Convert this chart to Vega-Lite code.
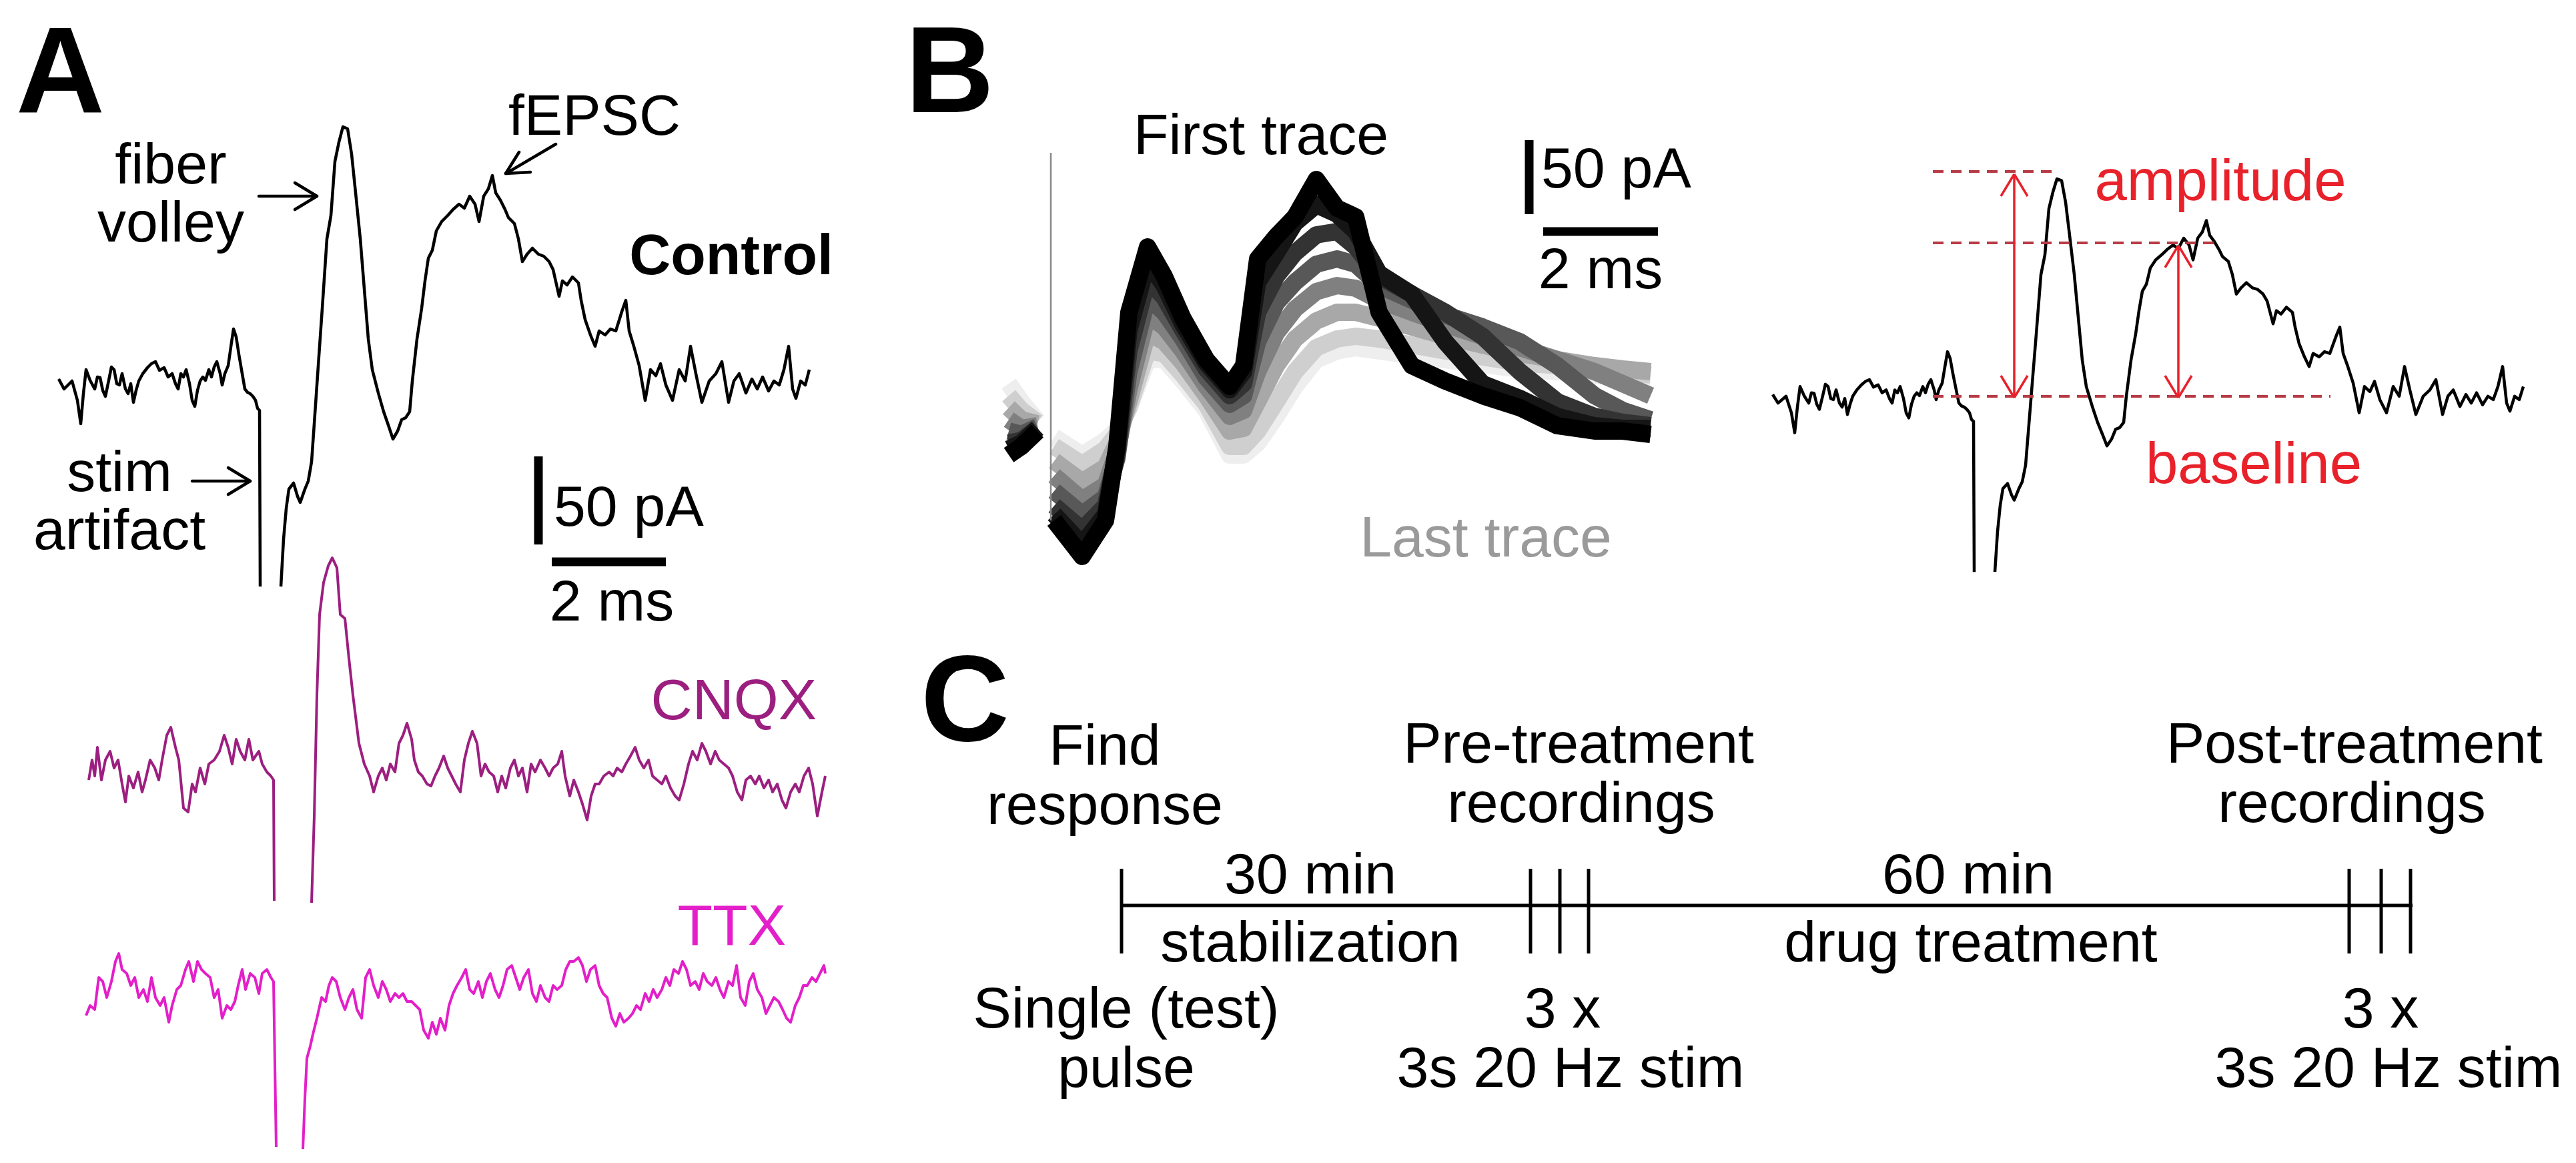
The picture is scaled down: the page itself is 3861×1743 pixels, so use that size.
{
"$schema":"https://vega.github.io/schema/vega-lite/v6.json",
"width":3861,"height":1743,"padding":0,"autosize":{"type":"none"},
"background":"white",
"config":{"view":{"stroke":null},"text":{"font":"Liberation Sans"}},
"resolve":{"scale":{"x":"independent","y":"independent","color":"independent"}},
"datasets":{
"ctrl":[
{"s":"a","x":88,"y":568},{"s":"a","x":96,"y":583},{"s":"a","x":104,"y":575},{"s":"a","x":108,"y":571},{"s":"a","x":116,"y":600},{"s":"a","x":121,"y":635},{"s":"a","x":125,"y":590},{"s":"a","x":129,"y":554},{"s":"a","x":135,"y":570},{"s":"a","x":142,"y":583},{"s":"a","x":146,"y":565},{"s":"a","x":150,"y":566},{"s":"a","x":154,"y":585},{"s":"a","x":158,"y":594},{"s":"a","x":163,"y":570},{"s":"a","x":167,"y":550},{"s":"a","x":171,"y":554},{"s":"a","x":175,"y":575},{"s":"a","x":179,"y":577},{"s":"a","x":183,"y":560},{"s":"a","x":188,"y":583},{"s":"a","x":192,"y":590},{"s":"a","x":196,"y":575},{"s":"a","x":200,"y":603},{"s":"a","x":204,"y":585},{"s":"a","x":208,"y":571},{"s":"a","x":214,"y":560},{"s":"a","x":221,"y":551},{"s":"a","x":227,"y":545},{"s":"a","x":233,"y":542},{"s":"a","x":239,"y":555},{"s":"a","x":246,"y":551},{"s":"a","x":252,"y":565},{"s":"a","x":258,"y":560},{"s":"a","x":263,"y":575},{"s":"a","x":267,"y":583},{"s":"a","x":271,"y":560},{"s":"a","x":275,"y":565},{"s":"a","x":279,"y":554},{"s":"a","x":284,"y":575},{"s":"a","x":288,"y":600},{"s":"a","x":292,"y":609},{"s":"a","x":296,"y":585},{"s":"a","x":300,"y":571},{"s":"a","x":304,"y":565},{"s":"a","x":308,"y":570},{"s":"a","x":313,"y":554},{"s":"a","x":317,"y":565},{"s":"a","x":321,"y":550},{"s":"a","x":325,"y":542},{"s":"a","x":330,"y":560},{"s":"a","x":333,"y":577},{"s":"a","x":337,"y":560},{"s":"a","x":342,"y":548},{"s":"a","x":346,"y":520},{"s":"a","x":350,"y":493},{"s":"a","x":354,"y":505},{"s":"a","x":358,"y":531},{"s":"a","x":363,"y":560},{"s":"a","x":367,"y":583},{"s":"a","x":371,"y":588},{"s":"a","x":375,"y":590},{"s":"a","x":379,"y":594},{"s":"a","x":383,"y":600},{"s":"a","x":386,"y":612},{"s":"a","x":389,"y":615},{"s":"a","x":390,"y":879},
{"s":"b","x":421,"y":879},{"s":"b","x":425,"y":808},{"s":"b","x":429,"y":762},{"s":"b","x":433,"y":733},{"s":"b","x":440,"y":724},{"s":"b","x":446,"y":744},{"s":"b","x":450,"y":753},{"s":"b","x":457,"y":733},{"s":"b","x":462,"y":721},{"s":"b","x":467,"y":692},{"s":"b","x":471,"y":635},{"s":"b","x":477,"y":548},{"s":"b","x":483,"y":462},{"s":"b","x":490,"y":358},{"s":"b","x":496,"y":323},{"s":"b","x":502,"y":242},{"s":"b","x":508,"y":213},{"s":"b","x":514,"y":190},{"s":"b","x":521,"y":193},{"s":"b","x":527,"y":231},{"s":"b","x":533,"y":289},{"s":"b","x":540,"y":358},{"s":"b","x":546,"y":433},{"s":"b","x":552,"y":508},{"s":"b","x":558,"y":554},{"s":"b","x":567,"y":589},{"s":"b","x":575,"y":617},{"s":"b","x":583,"y":640},{"s":"b","x":589,"y":658},{"s":"b","x":596,"y":646},{"s":"b","x":602,"y":629},{"s":"b","x":608,"y":626},{"s":"b","x":614,"y":617},{"s":"b","x":618,"y":571},{"s":"b","x":625,"y":508},{"s":"b","x":632,"y":462},{"s":"b","x":637,"y":421},{"s":"b","x":642,"y":387},{"s":"b","x":648,"y":375},{"s":"b","x":654,"y":346},{"s":"b","x":662,"y":332},{"s":"b","x":671,"y":323},{"s":"b","x":679,"y":314},{"s":"b","x":688,"y":306},{"s":"b","x":696,"y":312},{"s":"b","x":704,"y":294},{"s":"b","x":712,"y":306},{"s":"b","x":718,"y":332},{"s":"b","x":725,"y":294},{"s":"b","x":732,"y":283},{"s":"b","x":738,"y":263},{"s":"b","x":743,"y":289},{"s":"b","x":750,"y":300},{"s":"b","x":757,"y":314},{"s":"b","x":762,"y":326},{"s":"b","x":771,"y":335},{"s":"b","x":777,"y":358},{"s":"b","x":783,"y":392},{"s":"b","x":790,"y":381},{"s":"b","x":798,"y":372},{"s":"b","x":807,"y":381},{"s":"b","x":815,"y":384},{"s":"b","x":823,"y":392},{"s":"b","x":829,"y":404},{"s":"b","x":838,"y":444},{"s":"b","x":843,"y":421},{"s":"b","x":850,"y":427},{"s":"b","x":858,"y":415},{"s":"b","x":867,"y":424},{"s":"b","x":871,"y":450},{"s":"b","x":877,"y":479},{"s":"b","x":885,"y":502},{"s":"b","x":892,"y":519},{"s":"b","x":898,"y":496},{"s":"b","x":907,"y":502},{"s":"b","x":915,"y":493},{"s":"b","x":923,"y":496},{"s":"b","x":932,"y":467},{"s":"b","x":938,"y":450},{"s":"b","x":943,"y":496},{"s":"b","x":950,"y":519},{"s":"b","x":958,"y":548},{"s":"b","x":967,"y":600},{"s":"b","x":975,"y":554},{"s":"b","x":983,"y":563},{"s":"b","x":990,"y":545},{"s":"b","x":998,"y":577},{"s":"b","x":1008,"y":600},{"s":"b","x":1018,"y":554},{"s":"b","x":1027,"y":571},{"s":"b","x":1035,"y":519},{"s":"b","x":1043,"y":560},{"s":"b","x":1052,"y":603},{"s":"b","x":1063,"y":571},{"s":"b","x":1073,"y":560},{"s":"b","x":1082,"y":542},{"s":"b","x":1092,"y":603},{"s":"b","x":1100,"y":571},{"s":"b","x":1108,"y":560},{"s":"b","x":1118,"y":589},{"s":"b","x":1127,"y":568},{"s":"b","x":1135,"y":583},{"s":"b","x":1143,"y":565},{"s":"b","x":1152,"y":586},{"s":"b","x":1160,"y":571},{"s":"b","x":1168,"y":577},{"s":"b","x":1175,"y":554},{"s":"b","x":1182,"y":519},{"s":"b","x":1188,"y":583},{"s":"b","x":1193,"y":597},{"s":"b","x":1200,"y":571},{"s":"b","x":1207,"y":577},{"s":"b","x":1213,"y":554}
],
"cnqx":[
{"s":"a","x":133,"y":1169},{"s":"a","x":138,"y":1139},{"s":"a","x":142,"y":1163},{"s":"a","x":146,"y":1120},{"s":"a","x":152,"y":1169},{"s":"a","x":158,"y":1139},{"s":"a","x":165,"y":1126},{"s":"a","x":171,"y":1151},{"s":"a","x":177,"y":1139},{"s":"a","x":183,"y":1175},{"s":"a","x":188,"y":1202},{"s":"a","x":193,"y":1163},{"s":"a","x":200,"y":1181},{"s":"a","x":207,"y":1157},{"s":"a","x":213,"y":1187},{"s":"a","x":218,"y":1169},{"s":"a","x":225,"y":1139},{"s":"a","x":232,"y":1151},{"s":"a","x":238,"y":1169},{"s":"a","x":243,"y":1139},{"s":"a","x":250,"y":1102},{"s":"a","x":256,"y":1090},{"s":"a","x":263,"y":1120},{"s":"a","x":268,"y":1139},{"s":"a","x":275,"y":1211},{"s":"a","x":282,"y":1217},{"s":"a","x":288,"y":1175},{"s":"a","x":293,"y":1187},{"s":"a","x":300,"y":1151},{"s":"a","x":307,"y":1175},{"s":"a","x":313,"y":1145},{"s":"a","x":321,"y":1139},{"s":"a","x":329,"y":1126},{"s":"a","x":336,"y":1102},{"s":"a","x":342,"y":1120},{"s":"a","x":348,"y":1145},{"s":"a","x":354,"y":1108},{"s":"a","x":360,"y":1126},{"s":"a","x":367,"y":1139},{"s":"a","x":373,"y":1108},{"s":"a","x":379,"y":1139},{"s":"a","x":388,"y":1126},{"s":"a","x":393,"y":1145},{"s":"a","x":400,"y":1157},{"s":"a","x":406,"y":1163},{"s":"a","x":410,"y":1169},{"s":"a","x":411,"y":1350},
{"s":"b","x":467,"y":1353},{"s":"b","x":471,"y":1223},{"s":"b","x":475,"y":1042},{"s":"b","x":479,"y":921},{"s":"b","x":485,"y":873},{"s":"b","x":492,"y":848},{"s":"b","x":498,"y":836},{"s":"b","x":505,"y":851},{"s":"b","x":510,"y":921},{"s":"b","x":517,"y":927},{"s":"b","x":523,"y":987},{"s":"b","x":529,"y":1042},{"s":"b","x":538,"y":1114},{"s":"b","x":546,"y":1145},{"s":"b","x":554,"y":1163},{"s":"b","x":560,"y":1187},{"s":"b","x":567,"y":1163},{"s":"b","x":573,"y":1151},{"s":"b","x":579,"y":1169},{"s":"b","x":585,"y":1145},{"s":"b","x":592,"y":1157},{"s":"b","x":598,"y":1114},{"s":"b","x":604,"y":1102},{"s":"b","x":610,"y":1084},{"s":"b","x":617,"y":1108},{"s":"b","x":621,"y":1139},{"s":"b","x":627,"y":1157},{"s":"b","x":633,"y":1163},{"s":"b","x":640,"y":1175},{"s":"b","x":646,"y":1178},{"s":"b","x":652,"y":1163},{"s":"b","x":658,"y":1151},{"s":"b","x":665,"y":1133},{"s":"b","x":671,"y":1151},{"s":"b","x":677,"y":1163},{"s":"b","x":683,"y":1175},{"s":"b","x":690,"y":1187},{"s":"b","x":696,"y":1139},{"s":"b","x":702,"y":1114},{"s":"b","x":708,"y":1096},{"s":"b","x":715,"y":1114},{"s":"b","x":721,"y":1163},{"s":"b","x":727,"y":1145},{"s":"b","x":733,"y":1157},{"s":"b","x":740,"y":1163},{"s":"b","x":746,"y":1187},{"s":"b","x":752,"y":1163},{"s":"b","x":758,"y":1181},{"s":"b","x":765,"y":1151},{"s":"b","x":771,"y":1139},{"s":"b","x":777,"y":1163},{"s":"b","x":783,"y":1151},{"s":"b","x":790,"y":1187},{"s":"b","x":796,"y":1145},{"s":"b","x":802,"y":1157},{"s":"b","x":810,"y":1139},{"s":"b","x":817,"y":1151},{"s":"b","x":823,"y":1163},{"s":"b","x":829,"y":1151},{"s":"b","x":836,"y":1145},{"s":"b","x":842,"y":1126},{"s":"b","x":847,"y":1163},{"s":"b","x":854,"y":1193},{"s":"b","x":860,"y":1169},{"s":"b","x":867,"y":1187},{"s":"b","x":873,"y":1205},{"s":"b","x":880,"y":1229},{"s":"b","x":886,"y":1193},{"s":"b","x":892,"y":1175},{"s":"b","x":898,"y":1175},{"s":"b","x":905,"y":1163},{"s":"b","x":913,"y":1157},{"s":"b","x":919,"y":1163},{"s":"b","x":925,"y":1151},{"s":"b","x":932,"y":1157},{"s":"b","x":938,"y":1145},{"s":"b","x":945,"y":1133},{"s":"b","x":952,"y":1120},{"s":"b","x":958,"y":1139},{"s":"b","x":965,"y":1151},{"s":"b","x":972,"y":1139},{"s":"b","x":978,"y":1163},{"s":"b","x":985,"y":1169},{"s":"b","x":992,"y":1175},{"s":"b","x":998,"y":1163},{"s":"b","x":1005,"y":1181},{"s":"b","x":1012,"y":1193},{"s":"b","x":1018,"y":1199},{"s":"b","x":1025,"y":1175},{"s":"b","x":1032,"y":1145},{"s":"b","x":1038,"y":1126},{"s":"b","x":1045,"y":1139},{"s":"b","x":1052,"y":1114},{"s":"b","x":1058,"y":1126},{"s":"b","x":1065,"y":1145},{"s":"b","x":1072,"y":1126},{"s":"b","x":1078,"y":1139},{"s":"b","x":1085,"y":1145},{"s":"b","x":1092,"y":1151},{"s":"b","x":1098,"y":1163},{"s":"b","x":1105,"y":1187},{"s":"b","x":1112,"y":1199},{"s":"b","x":1118,"y":1169},{"s":"b","x":1125,"y":1163},{"s":"b","x":1132,"y":1175},{"s":"b","x":1138,"y":1163},{"s":"b","x":1145,"y":1181},{"s":"b","x":1152,"y":1169},{"s":"b","x":1158,"y":1187},{"s":"b","x":1165,"y":1175},{"s":"b","x":1172,"y":1199},{"s":"b","x":1178,"y":1211},{"s":"b","x":1185,"y":1187},{"s":"b","x":1192,"y":1175},{"s":"b","x":1198,"y":1187},{"s":"b","x":1205,"y":1163},{"s":"b","x":1212,"y":1151},{"s":"b","x":1218,"y":1175},{"s":"b","x":1225,"y":1223},{"s":"b","x":1232,"y":1187},{"s":"b","x":1237,"y":1163}
],
"ttx":[
{"s":"a","x":129,"y":1522},{"s":"a","x":135,"y":1507},{"s":"a","x":142,"y":1513},{"s":"a","x":148,"y":1465},{"s":"a","x":154,"y":1471},{"s":"a","x":160,"y":1495},{"s":"a","x":167,"y":1471},{"s":"a","x":173,"y":1441},{"s":"a","x":178,"y":1429},{"s":"a","x":183,"y":1453},{"s":"a","x":190,"y":1459},{"s":"a","x":196,"y":1477},{"s":"a","x":202,"y":1465},{"s":"a","x":208,"y":1495},{"s":"a","x":215,"y":1483},{"s":"a","x":221,"y":1501},{"s":"a","x":227,"y":1465},{"s":"a","x":233,"y":1495},{"s":"a","x":240,"y":1507},{"s":"a","x":246,"y":1495},{"s":"a","x":253,"y":1532},{"s":"a","x":258,"y":1507},{"s":"a","x":265,"y":1483},{"s":"a","x":271,"y":1477},{"s":"a","x":278,"y":1453},{"s":"a","x":283,"y":1441},{"s":"a","x":290,"y":1471},{"s":"a","x":296,"y":1441},{"s":"a","x":302,"y":1453},{"s":"a","x":308,"y":1459},{"s":"a","x":315,"y":1465},{"s":"a","x":321,"y":1495},{"s":"a","x":327,"y":1483},{"s":"a","x":333,"y":1526},{"s":"a","x":340,"y":1507},{"s":"a","x":346,"y":1513},{"s":"a","x":352,"y":1501},{"s":"a","x":357,"y":1477},{"s":"a","x":363,"y":1453},{"s":"a","x":368,"y":1483},{"s":"a","x":375,"y":1459},{"s":"a","x":382,"y":1465},{"s":"a","x":388,"y":1489},{"s":"a","x":393,"y":1459},{"s":"a","x":400,"y":1453},{"s":"a","x":406,"y":1465},{"s":"a","x":410,"y":1471},{"s":"a","x":414,"y":1719},
{"s":"b","x":454,"y":1722},{"s":"b","x":457,"y":1646},{"s":"b","x":460,"y":1586},{"s":"b","x":465,"y":1568},{"s":"b","x":469,"y":1550},{"s":"b","x":475,"y":1526},{"s":"b","x":482,"y":1495},{"s":"b","x":488,"y":1501},{"s":"b","x":493,"y":1477},{"s":"b","x":498,"y":1465},{"s":"b","x":504,"y":1471},{"s":"b","x":510,"y":1495},{"s":"b","x":517,"y":1513},{"s":"b","x":523,"y":1495},{"s":"b","x":529,"y":1483},{"s":"b","x":535,"y":1513},{"s":"b","x":542,"y":1526},{"s":"b","x":548,"y":1465},{"s":"b","x":554,"y":1453},{"s":"b","x":560,"y":1477},{"s":"b","x":567,"y":1495},{"s":"b","x":573,"y":1471},{"s":"b","x":579,"y":1483},{"s":"b","x":585,"y":1501},{"s":"b","x":592,"y":1489},{"s":"b","x":598,"y":1495},{"s":"b","x":604,"y":1489},{"s":"b","x":610,"y":1501},{"s":"b","x":617,"y":1501},{"s":"b","x":623,"y":1507},{"s":"b","x":629,"y":1513},{"s":"b","x":635,"y":1544},{"s":"b","x":642,"y":1556},{"s":"b","x":648,"y":1532},{"s":"b","x":654,"y":1550},{"s":"b","x":660,"y":1526},{"s":"b","x":667,"y":1544},{"s":"b","x":673,"y":1507},{"s":"b","x":679,"y":1489},{"s":"b","x":685,"y":1477},{"s":"b","x":692,"y":1465},{"s":"b","x":698,"y":1453},{"s":"b","x":704,"y":1483},{"s":"b","x":710,"y":1489},{"s":"b","x":717,"y":1471},{"s":"b","x":723,"y":1495},{"s":"b","x":729,"y":1471},{"s":"b","x":735,"y":1459},{"s":"b","x":742,"y":1483},{"s":"b","x":748,"y":1495},{"s":"b","x":754,"y":1477},{"s":"b","x":760,"y":1453},{"s":"b","x":767,"y":1447},{"s":"b","x":773,"y":1465},{"s":"b","x":779,"y":1483},{"s":"b","x":785,"y":1465},{"s":"b","x":792,"y":1453},{"s":"b","x":798,"y":1489},{"s":"b","x":804,"y":1501},{"s":"b","x":810,"y":1477},{"s":"b","x":817,"y":1495},{"s":"b","x":823,"y":1501},{"s":"b","x":829,"y":1477},{"s":"b","x":835,"y":1483},{"s":"b","x":842,"y":1477},{"s":"b","x":848,"y":1453},{"s":"b","x":854,"y":1441},{"s":"b","x":860,"y":1441},{"s":"b","x":867,"y":1435},{"s":"b","x":873,"y":1447},{"s":"b","x":879,"y":1471},{"s":"b","x":885,"y":1453},{"s":"b","x":892,"y":1447},{"s":"b","x":898,"y":1477},{"s":"b","x":904,"y":1489},{"s":"b","x":910,"y":1495},{"s":"b","x":917,"y":1526},{"s":"b","x":923,"y":1538},{"s":"b","x":929,"y":1519},{"s":"b","x":935,"y":1532},{"s":"b","x":942,"y":1526},{"s":"b","x":948,"y":1519},{"s":"b","x":954,"y":1507},{"s":"b","x":960,"y":1513},{"s":"b","x":967,"y":1489},{"s":"b","x":973,"y":1501},{"s":"b","x":979,"y":1483},{"s":"b","x":985,"y":1495},{"s":"b","x":992,"y":1483},{"s":"b","x":998,"y":1465},{"s":"b","x":1004,"y":1477},{"s":"b","x":1010,"y":1453},{"s":"b","x":1017,"y":1459},{"s":"b","x":1023,"y":1441},{"s":"b","x":1029,"y":1453},{"s":"b","x":1035,"y":1477},{"s":"b","x":1042,"y":1471},{"s":"b","x":1048,"y":1483},{"s":"b","x":1054,"y":1459},{"s":"b","x":1060,"y":1471},{"s":"b","x":1067,"y":1477},{"s":"b","x":1073,"y":1465},{"s":"b","x":1079,"y":1483},{"s":"b","x":1085,"y":1495},{"s":"b","x":1092,"y":1471},{"s":"b","x":1098,"y":1477},{"s":"b","x":1104,"y":1447},{"s":"b","x":1110,"y":1495},{"s":"b","x":1117,"y":1507},{"s":"b","x":1123,"y":1471},{"s":"b","x":1129,"y":1459},{"s":"b","x":1135,"y":1483},{"s":"b","x":1142,"y":1495},{"s":"b","x":1148,"y":1519},{"s":"b","x":1154,"y":1507},{"s":"b","x":1160,"y":1495},{"s":"b","x":1167,"y":1501},{"s":"b","x":1173,"y":1513},{"s":"b","x":1179,"y":1526},{"s":"b","x":1185,"y":1532},{"s":"b","x":1192,"y":1507},{"s":"b","x":1198,"y":1495},{"s":"b","x":1204,"y":1477},{"s":"b","x":1210,"y":1477},{"s":"b","x":1217,"y":1465},{"s":"b","x":1223,"y":1471},{"s":"b","x":1229,"y":1459},{"s":"b","x":1235,"y":1447},{"s":"b","x":1237,"y":1459}
],
"bl":[
{"t":8,"s":"L","x":1512,"y":575},{"t":8,"s":"L","x":1531,"y":602},{"t":8,"s":"L","x":1555,"y":631},
{"t":8,"s":"R","x":1580,"y":655},{"t":8,"s":"R","x":1622,"y":682},{"t":8,"s":"R","x":1657,"y":660},{"t":8,"s":"R","x":1674,"y":644},{"t":8,"s":"R","x":1692,"y":613},{"t":8,"s":"R","x":1720,"y":539},{"t":8,"s":"R","x":1745,"y":539},{"t":8,"s":"R","x":1773,"y":571},{"t":8,"s":"R","x":1808,"y":615},{"t":8,"s":"R","x":1843,"y":682},{"t":8,"s":"R","x":1864,"y":682},{"t":8,"s":"R","x":1885,"y":664},{"t":8,"s":"R","x":1913,"y":624},{"t":8,"s":"R","x":1941,"y":579},{"t":8,"s":"R","x":1973,"y":539},{"t":8,"s":"R","x":2004,"y":526},{"t":8,"s":"R","x":2032,"y":521},{"t":8,"s":"R","x":2067,"y":526},{"t":8,"s":"R","x":2116,"y":533},{"t":8,"s":"R","x":2166,"y":539},{"t":8,"s":"R","x":2222,"y":546},{"t":8,"s":"R","x":2278,"y":553},{"t":8,"s":"R","x":2334,"y":557},{"t":8,"s":"R","x":2390,"y":562},{"t":8,"s":"R","x":2432,"y":564},{"t":8,"s":"R","x":2474,"y":566},
{"t":7,"s":"L","x":1512,"y":593},{"t":7,"s":"L","x":1531,"y":615},{"t":7,"s":"L","x":1555,"y":633},
{"t":7,"s":"R","x":1580,"y":669},{"t":7,"s":"R","x":1622,"y":696},{"t":7,"s":"R","x":1657,"y":673},{"t":7,"s":"R","x":1674,"y":651},{"t":7,"s":"R","x":1692,"y":611},{"t":7,"s":"R","x":1720,"y":526},{"t":7,"s":"R","x":1745,"y":530},{"t":7,"s":"R","x":1773,"y":562},{"t":7,"s":"R","x":1808,"y":606},{"t":7,"s":"R","x":1843,"y":669},{"t":7,"s":"R","x":1864,"y":669},{"t":7,"s":"R","x":1885,"y":646},{"t":7,"s":"R","x":1913,"y":602},{"t":7,"s":"R","x":1941,"y":557},{"t":7,"s":"R","x":1973,"y":521},{"t":7,"s":"R","x":2004,"y":508},{"t":7,"s":"R","x":2032,"y":504},{"t":7,"s":"R","x":2067,"y":508},{"t":7,"s":"R","x":2116,"y":517},{"t":7,"s":"R","x":2166,"y":526},{"t":7,"s":"R","x":2222,"y":535},{"t":7,"s":"R","x":2278,"y":544},{"t":7,"s":"R","x":2334,"y":548},{"t":7,"s":"R","x":2390,"y":553},{"t":7,"s":"R","x":2432,"y":557},{"t":7,"s":"R","x":2474,"y":562},
{"t":6,"s":"L","x":1512,"y":611},{"t":6,"s":"L","x":1531,"y":629},{"t":6,"s":"L","x":1555,"y":635},
{"t":6,"s":"R","x":1580,"y":691},{"t":6,"s":"R","x":1622,"y":722},{"t":6,"s":"R","x":1657,"y":700},{"t":6,"s":"R","x":1674,"y":664},{"t":6,"s":"R","x":1692,"y":602},{"t":6,"s":"R","x":1720,"y":499},{"t":6,"s":"R","x":1745,"y":512},{"t":6,"s":"R","x":1773,"y":544},{"t":6,"s":"R","x":1808,"y":593},{"t":6,"s":"R","x":1843,"y":646},{"t":6,"s":"R","x":1864,"y":642},{"t":6,"s":"R","x":1885,"y":602},{"t":6,"s":"R","x":1913,"y":548},{"t":6,"s":"R","x":1941,"y":508},{"t":6,"s":"R","x":1973,"y":481},{"t":6,"s":"R","x":2004,"y":468},{"t":6,"s":"R","x":2032,"y":468},{"t":6,"s":"R","x":2067,"y":477},{"t":6,"s":"R","x":2116,"y":490},{"t":6,"s":"R","x":2166,"y":504},{"t":6,"s":"R","x":2222,"y":517},{"t":6,"s":"R","x":2278,"y":530},{"t":6,"s":"R","x":2334,"y":539},{"t":6,"s":"R","x":2390,"y":548},{"t":6,"s":"R","x":2432,"y":553},{"t":6,"s":"R","x":2474,"y":557},
{"t":5,"s":"L","x":1512,"y":629},{"t":5,"s":"L","x":1531,"y":642},{"t":5,"s":"L","x":1555,"y":638},
{"t":5,"s":"R","x":1580,"y":713},{"t":5,"s":"R","x":1622,"y":749},{"t":5,"s":"R","x":1657,"y":727},{"t":5,"s":"R","x":1674,"y":678},{"t":5,"s":"R","x":1692,"y":584},{"t":5,"s":"R","x":1720,"y":472},{"t":5,"s":"R","x":1745,"y":490},{"t":5,"s":"R","x":1773,"y":526},{"t":5,"s":"R","x":1808,"y":579},{"t":5,"s":"R","x":1843,"y":624},{"t":5,"s":"R","x":1864,"y":615},{"t":5,"s":"R","x":1885,"y":557},{"t":5,"s":"R","x":1913,"y":499},{"t":5,"s":"R","x":1941,"y":463},{"t":5,"s":"R","x":1973,"y":437},{"t":5,"s":"R","x":2004,"y":428},{"t":5,"s":"R","x":2032,"y":432},{"t":5,"s":"R","x":2067,"y":450},{"t":5,"s":"R","x":2116,"y":468},{"t":5,"s":"R","x":2166,"y":486},{"t":5,"s":"R","x":2222,"y":504},{"t":5,"s":"R","x":2278,"y":521},{"t":5,"s":"R","x":2334,"y":539},{"t":5,"s":"R","x":2390,"y":557},{"t":5,"s":"R","x":2432,"y":575},{"t":5,"s":"R","x":2474,"y":593},
{"t":4,"s":"L","x":1512,"y":646},{"t":4,"s":"L","x":1531,"y":651},{"t":4,"s":"L","x":1555,"y":640},
{"t":4,"s":"R","x":1580,"y":736},{"t":4,"s":"R","x":1622,"y":771},{"t":4,"s":"R","x":1657,"y":745},{"t":4,"s":"R","x":1674,"y":687},{"t":4,"s":"R","x":1692,"y":557},{"t":4,"s":"R","x":1720,"y":446},{"t":4,"s":"R","x":1745,"y":468},{"t":4,"s":"R","x":1773,"y":508},{"t":4,"s":"R","x":1808,"y":566},{"t":4,"s":"R","x":1843,"y":606},{"t":4,"s":"R","x":1864,"y":593},{"t":4,"s":"R","x":1885,"y":512},{"t":4,"s":"R","x":1913,"y":454},{"t":4,"s":"R","x":1941,"y":423},{"t":4,"s":"R","x":1973,"y":396},{"t":4,"s":"R","x":2004,"y":388},{"t":4,"s":"R","x":2032,"y":396},{"t":4,"s":"R","x":2067,"y":428},{"t":4,"s":"R","x":2116,"y":450},{"t":4,"s":"R","x":2166,"y":472},{"t":4,"s":"R","x":2222,"y":490},{"t":4,"s":"R","x":2278,"y":512},{"t":4,"s":"R","x":2334,"y":548},{"t":4,"s":"R","x":2390,"y":593},{"t":4,"s":"R","x":2432,"y":615},{"t":4,"s":"R","x":2474,"y":629},
{"t":3,"s":"L","x":1512,"y":664},{"t":3,"s":"L","x":1531,"y":660},{"t":3,"s":"L","x":1555,"y":642},
{"t":3,"s":"R","x":1580,"y":758},{"t":3,"s":"R","x":1622,"y":794},{"t":3,"s":"R","x":1657,"y":758},{"t":3,"s":"R","x":1674,"y":682},{"t":3,"s":"R","x":1692,"y":526},{"t":3,"s":"R","x":1720,"y":419},{"t":3,"s":"R","x":1745,"y":446},{"t":3,"s":"R","x":1773,"y":495},{"t":3,"s":"R","x":1808,"y":553},{"t":3,"s":"R","x":1843,"y":593},{"t":3,"s":"R","x":1864,"y":575},{"t":3,"s":"R","x":1885,"y":468},{"t":3,"s":"R","x":1913,"y":414},{"t":3,"s":"R","x":1941,"y":379},{"t":3,"s":"R","x":1973,"y":352},{"t":3,"s":"R","x":2004,"y":347},{"t":3,"s":"R","x":2032,"y":370},{"t":3,"s":"R","x":2067,"y":414},{"t":3,"s":"R","x":2116,"y":441},{"t":3,"s":"R","x":2166,"y":468},{"t":3,"s":"R","x":2222,"y":504},{"t":3,"s":"R","x":2278,"y":557},{"t":3,"s":"R","x":2334,"y":602},{"t":3,"s":"R","x":2390,"y":624},{"t":3,"s":"R","x":2432,"y":633},{"t":3,"s":"R","x":2474,"y":638},
{"t":2,"s":"L","x":1512,"y":673},{"t":2,"s":"L","x":1531,"y":664},{"t":2,"s":"L","x":1555,"y":642},
{"t":2,"s":"R","x":1580,"y":771},{"t":2,"s":"R","x":1622,"y":816},{"t":2,"s":"R","x":1657,"y":771},{"t":2,"s":"R","x":1674,"y":673},{"t":2,"s":"R","x":1692,"y":495},{"t":2,"s":"R","x":1720,"y":392},{"t":2,"s":"R","x":1745,"y":428},{"t":2,"s":"R","x":1773,"y":486},{"t":2,"s":"R","x":1808,"y":544},{"t":2,"s":"R","x":1843,"y":584},{"t":2,"s":"R","x":1864,"y":557},{"t":2,"s":"R","x":1885,"y":423},{"t":2,"s":"R","x":1913,"y":379},{"t":2,"s":"R","x":1941,"y":334},{"t":2,"s":"R","x":1973,"y":307},{"t":2,"s":"R","x":2004,"y":321},{"t":2,"s":"R","x":2032,"y":347},{"t":2,"s":"R","x":2067,"y":410},{"t":2,"s":"R","x":2116,"y":441},{"t":2,"s":"R","x":2166,"y":512},{"t":2,"s":"R","x":2222,"y":575},{"t":2,"s":"R","x":2278,"y":597},{"t":2,"s":"R","x":2334,"y":624},{"t":2,"s":"R","x":2390,"y":638},{"t":2,"s":"R","x":2432,"y":642},{"t":2,"s":"R","x":2474,"y":642},
{"t":1,"s":"L","x":1512,"y":682},{"t":1,"s":"L","x":1531,"y":669},{"t":1,"s":"L","x":1555,"y":646},
{"t":1,"s":"R","x":1580,"y":780},{"t":1,"s":"R","x":1622,"y":834},{"t":1,"s":"R","x":1657,"y":780},{"t":1,"s":"R","x":1674,"y":669},{"t":1,"s":"R","x":1692,"y":468},{"t":1,"s":"R","x":1720,"y":370},{"t":1,"s":"R","x":1745,"y":414},{"t":1,"s":"R","x":1773,"y":477},{"t":1,"s":"R","x":1808,"y":539},{"t":1,"s":"R","x":1843,"y":579},{"t":1,"s":"R","x":1864,"y":548},{"t":1,"s":"R","x":1885,"y":388},{"t":1,"s":"R","x":1913,"y":354},{"t":1,"s":"R","x":1941,"y":325},{"t":1,"s":"R","x":1973,"y":269},{"t":1,"s":"R","x":2004,"y":312},{"t":1,"s":"R","x":2032,"y":325},{"t":1,"s":"R","x":2067,"y":468},{"t":1,"s":"R","x":2116,"y":548},{"t":1,"s":"R","x":2166,"y":571},{"t":1,"s":"R","x":2222,"y":593},{"t":1,"s":"R","x":2278,"y":611},{"t":1,"s":"R","x":2334,"y":638},{"t":1,"s":"R","x":2390,"y":646},{"t":1,"s":"R","x":2432,"y":646},{"t":1,"s":"R","x":2474,"y":651}
]
},
"layer":[
{"data":{"name":"bl"},"mark":{"type":"line","strokeWidth":26,"strokeJoin":"round","strokeCap":"butt"},
 "encoding":{"x":{"field":"x","type":"quantitative","axis":null,"scale":{"domain":[0,3861],"nice":false,"zero":false}},
  "y":{"field":"y","type":"quantitative","axis":null,"scale":{"domain":[0,1743],"reverse":true,"nice":false,"zero":false}},
  "color":{"field":"t","type":"ordinal","legend":null,"scale":{"domain":[8,7,6,5,4,3,2,1],"range":["#eeeeee","#cfcfcf","#a8a8a8","#808080","#585858","#333333","#151515","#000000"]}},
  "detail":{"field":"s"}}},
{"data":{"values":[{"x":1575,"y":229,"x2":1575,"y2":780}]},"mark":{"type":"rule","strokeWidth":2.5,"color":"#888888"},
 "encoding":{"x":{"field":"x","type":"quantitative","axis":null,"scale":{"domain":[0,3861],"nice":false,"zero":false}},
  "y":{"field":"y","type":"quantitative","axis":null,"scale":{"domain":[0,1743],"reverse":true,"nice":false,"zero":false}},
  "x2":{"field":"x2"},"y2":{"field":"y2"}}},
{"data":{"name":"ctrl"},"mark":{"type":"line","strokeWidth":4.5,"color":"#000000","strokeJoin":"round"},
 "encoding":{"x":{"field":"x","type":"quantitative","axis":null,"scale":{"domain":[0,3861],"nice":false,"zero":false}},
  "y":{"field":"y","type":"quantitative","axis":null,"scale":{"domain":[0,1743],"reverse":true,"nice":false,"zero":false}},
  "detail":{"field":"s"}}},
{"data":{"name":"ctrl"},"mark":{"type":"line","strokeWidth":4.5,"color":"#000000","strokeJoin":"round"},
 "encoding":{"x":{"field":"x","type":"quantitative","axis":null,"scale":{"domain":[-2569,1292],"nice":false,"zero":false}},
  "y":{"field":"y","type":"quantitative","axis":null,"scale":{"domain":[-123.5,1915],"reverse":true,"nice":false,"zero":false}},
  "detail":{"field":"s"}}},
{"data":{"name":"cnqx"},"mark":{"type":"line","strokeWidth":4,"color":"#9c1f80","strokeJoin":"round"},
 "encoding":{"x":{"field":"x","type":"quantitative","axis":null,"scale":{"domain":[0,3861],"nice":false,"zero":false}},
  "y":{"field":"y","type":"quantitative","axis":null,"scale":{"domain":[0,1743],"reverse":true,"nice":false,"zero":false}},
  "detail":{"field":"s"}}},
{"data":{"name":"ttx"},"mark":{"type":"line","strokeWidth":4,"color":"#e31fc9","strokeJoin":"round"},
 "encoding":{"x":{"field":"x","type":"quantitative","axis":null,"scale":{"domain":[0,3861],"nice":false,"zero":false}},
  "y":{"field":"y","type":"quantitative","axis":null,"scale":{"domain":[0,1743],"reverse":true,"nice":false,"zero":false}},
  "detail":{"field":"s"}}},
{"data":{"values":[{"x":2897,"y":257,"x2":3080,"y2":257},{"x":2897,"y":364,"x2":3325,"y2":364},{"x":2897,"y":594,"x2":3493,"y2":594}]},
 "mark":{"type":"rule","strokeWidth":4,"color":"#b83a44","strokeDash":[16,11]},
 "encoding":{"x":{"field":"x","type":"quantitative","axis":null,"scale":{"domain":[0,3861],"nice":false,"zero":false}},
  "y":{"field":"y","type":"quantitative","axis":null,"scale":{"domain":[0,1743],"reverse":true,"nice":false,"zero":false}},
  "x2":{"field":"x2"},"y2":{"field":"y2"}}},
{"data":{"values":[{"x":3019,"y":261,"x2":3019,"y2":596},{"x":3019,"y":261,"x2":2999,"y2":294},{"x":3019,"y":261,"x2":3039,"y2":294},{"x":3019,"y":596,"x2":2999,"y2":563},{"x":3019,"y":596,"x2":3039,"y2":563},
 {"x":3265,"y":368,"x2":3265,"y2":596},{"x":3265,"y":368,"x2":3245,"y2":401},{"x":3265,"y":368,"x2":3285,"y2":401},{"x":3265,"y":596,"x2":3245,"y2":563},{"x":3265,"y":596,"x2":3285,"y2":563}]},
 "mark":{"type":"rule","strokeWidth":3.5,"color":"#e8212a"},
 "encoding":{"x":{"field":"x","type":"quantitative","axis":null,"scale":{"domain":[0,3861],"nice":false,"zero":false}},
  "y":{"field":"y","type":"quantitative","axis":null,"scale":{"domain":[0,1743],"reverse":true,"nice":false,"zero":false}},
  "x2":{"field":"x2"},"y2":{"field":"y2"}}},
{"data":{"values":[{"x":388,"y":294,"x2":473,"y2":294},{"x":475,"y":294,"x2":442,"y2":274},{"x":475,"y":294,"x2":442,"y2":314},
 {"x":833,"y":216,"x2":760,"y2":259},{"x":758,"y":260,"x2":795,"y2":258},{"x":758,"y":260,"x2":778,"y2":228},
 {"x":288,"y":721,"x2":373,"y2":721},{"x":375,"y":721,"x2":342,"y2":701},{"x":375,"y":721,"x2":342,"y2":741}]},
 "mark":{"type":"rule","strokeWidth":4.5,"color":"#000000","strokeCap":"round"},
 "encoding":{"x":{"field":"x","type":"quantitative","axis":null,"scale":{"domain":[0,3861],"nice":false,"zero":false}},
  "y":{"field":"y","type":"quantitative","axis":null,"scale":{"domain":[0,1743],"reverse":true,"nice":false,"zero":false}},
  "x2":{"field":"x2"},"y2":{"field":"y2"}}},
{"data":{"values":[{"x":807,"y":684,"x2":807,"y2":816},{"x":827,"y":842,"x2":998,"y2":842},{"x":2292,"y":210,"x2":2292,"y2":321},{"x":2313,"y":347,"x2":2485,"y2":347}]},
 "mark":{"type":"rule","strokeWidth":13,"color":"#000000"},
 "encoding":{"x":{"field":"x","type":"quantitative","axis":null,"scale":{"domain":[0,3861],"nice":false,"zero":false}},
  "y":{"field":"y","type":"quantitative","axis":null,"scale":{"domain":[0,1743],"reverse":true,"nice":false,"zero":false}},
  "x2":{"field":"x2"},"y2":{"field":"y2"}}},
{"data":{"values":[{"x":1681,"y":1357,"x2":3616,"y2":1357},{"x":1681,"y":1302,"x2":1681,"y2":1429},{"x":2294,"y":1302,"x2":2294,"y2":1429},{"x":2338,"y":1302,"x2":2338,"y2":1429},{"x":2381,"y":1302,"x2":2381,"y2":1429},{"x":3521,"y":1302,"x2":3521,"y2":1429},{"x":3569,"y":1302,"x2":3569,"y2":1429},{"x":3613,"y":1302,"x2":3613,"y2":1429}]},
 "mark":{"type":"rule","strokeWidth":5,"color":"#000000"},
 "encoding":{"x":{"field":"x","type":"quantitative","axis":null,"scale":{"domain":[0,3861],"nice":false,"zero":false}},
  "y":{"field":"y","type":"quantitative","axis":null,"scale":{"domain":[0,1743],"reverse":true,"nice":false,"zero":false}},
  "x2":{"field":"x2"},"y2":{"field":"y2"}}},
{"data":{"values":[{"x":24,"y":168,"text":"A"},{"x":1357,"y":168,"text":"B"},{"x":1380,"y":1110,"text":"C"}]},
 "mark":{"type":"text","fontSize":184,"fontWeight":"bold","align":"left","baseline":"alphabetic","color":"#000000","font":"Liberation Sans"},
 "encoding":{"x":{"field":"x","type":"quantitative","axis":null,"scale":{"domain":[0,3861],"nice":false,"zero":false}},
  "y":{"field":"y","type":"quantitative","axis":null,"scale":{"domain":[0,1743],"reverse":true,"nice":false,"zero":false}},
  "text":{"field":"text"}}},
{"data":{"values":[{"x":256,"y":275,"text":"fiber"},{"x":256,"y":362,"text":"volley"},{"x":891,"y":202,"text":"fEPSC"},{"x":179,"y":736,"text":"stim"},{"x":179,"y":823,"text":"artifact"},{"x":917,"y":930,"text":"2 ms"},
 {"x":1890,"y":231,"text":"First trace"},{"x":2399,"y":432,"text":"2 ms"},
 {"x":1656,"y":1146,"text":"Find"},{"x":1656,"y":1235,"text":"response"},{"x":2366,"y":1143,"text":"Pre-treatment"},{"x":2370,"y":1232,"text":"recordings"},{"x":3529,"y":1143,"text":"Post-treatment"},{"x":3525,"y":1232,"text":"recordings"},
 {"x":1964,"y":1339,"text":"30 min"},{"x":2950,"y":1339,"text":"60 min"},{"x":1964,"y":1441,"text":"stabilization"},{"x":2954,"y":1441,"text":"drug treatment"},
 {"x":1688,"y":1540,"text":"Single (test)"},{"x":1688,"y":1629,"text":"pulse"},{"x":2342,"y":1540,"text":"3 x"},{"x":2354,"y":1629,"text":"3s 20 Hz stim"},{"x":3568,"y":1540,"text":"3 x"},{"x":3580,"y":1629,"text":"3s 20 Hz stim"}]},
 "mark":{"type":"text","fontSize":86,"align":"center","baseline":"alphabetic","color":"#000000","font":"Liberation Sans"},
 "encoding":{"x":{"field":"x","type":"quantitative","axis":null,"scale":{"domain":[0,3861],"nice":false,"zero":false}},
  "y":{"field":"y","type":"quantitative","axis":null,"scale":{"domain":[0,1743],"reverse":true,"nice":false,"zero":false}},
  "text":{"field":"text"}}},
{"data":{"values":[{"x":830,"y":788,"text":"50 pA"},{"x":2310,"y":281,"text":"50 pA"}]},
 "mark":{"type":"text","fontSize":86,"align":"left","baseline":"alphabetic","color":"#000000","font":"Liberation Sans"},
 "encoding":{"x":{"field":"x","type":"quantitative","axis":null,"scale":{"domain":[0,3861],"nice":false,"zero":false}},
  "y":{"field":"y","type":"quantitative","axis":null,"scale":{"domain":[0,1743],"reverse":true,"nice":false,"zero":false}},
  "text":{"field":"text"}}},
{"data":{"values":[{"x":1096,"y":411,"text":"Control"}]},
 "mark":{"type":"text","fontSize":86,"fontWeight":"bold","align":"center","baseline":"alphabetic","color":"#000000","font":"Liberation Sans"},
 "encoding":{"x":{"field":"x","type":"quantitative","axis":null,"scale":{"domain":[0,3861],"nice":false,"zero":false}},
  "y":{"field":"y","type":"quantitative","axis":null,"scale":{"domain":[0,1743],"reverse":true,"nice":false,"zero":false}},
  "text":{"field":"text"}}},
{"data":{"values":[{"x":1224,"y":1078,"text":"CNQX"}]},
 "mark":{"type":"text","fontSize":86,"align":"right","baseline":"alphabetic","color":"#9c1f80","font":"Liberation Sans"},
 "encoding":{"x":{"field":"x","type":"quantitative","axis":null,"scale":{"domain":[0,3861],"nice":false,"zero":false}},
  "y":{"field":"y","type":"quantitative","axis":null,"scale":{"domain":[0,1743],"reverse":true,"nice":false,"zero":false}},
  "text":{"field":"text"}}},
{"data":{"values":[{"x":1178,"y":1416,"text":"TTX"}]},
 "mark":{"type":"text","fontSize":86,"align":"right","baseline":"alphabetic","color":"#e31fc9","font":"Liberation Sans"},
 "encoding":{"x":{"field":"x","type":"quantitative","axis":null,"scale":{"domain":[0,3861],"nice":false,"zero":false}},
  "y":{"field":"y","type":"quantitative","axis":null,"scale":{"domain":[0,1743],"reverse":true,"nice":false,"zero":false}},
  "text":{"field":"text"}}},
{"data":{"values":[{"x":2227,"y":834,"text":"Last trace"}]},
 "mark":{"type":"text","fontSize":86,"align":"center","baseline":"alphabetic","color":"#9a9a9a","font":"Liberation Sans"},
 "encoding":{"x":{"field":"x","type":"quantitative","axis":null,"scale":{"domain":[0,3861],"nice":false,"zero":false}},
  "y":{"field":"y","type":"quantitative","axis":null,"scale":{"domain":[0,1743],"reverse":true,"nice":false,"zero":false}},
  "text":{"field":"text"}}},
{"data":{"values":[{"x":3328,"y":300,"text":"amplitude"},{"x":3378,"y":724,"text":"baseline"}]},
 "mark":{"type":"text","fontSize":87,"align":"center","baseline":"alphabetic","color":"#e8212a","font":"Liberation Sans"},
 "encoding":{"x":{"field":"x","type":"quantitative","axis":null,"scale":{"domain":[0,3861],"nice":false,"zero":false}},
  "y":{"field":"y","type":"quantitative","axis":null,"scale":{"domain":[0,1743],"reverse":true,"nice":false,"zero":false}},
  "text":{"field":"text"}}}
]
}
